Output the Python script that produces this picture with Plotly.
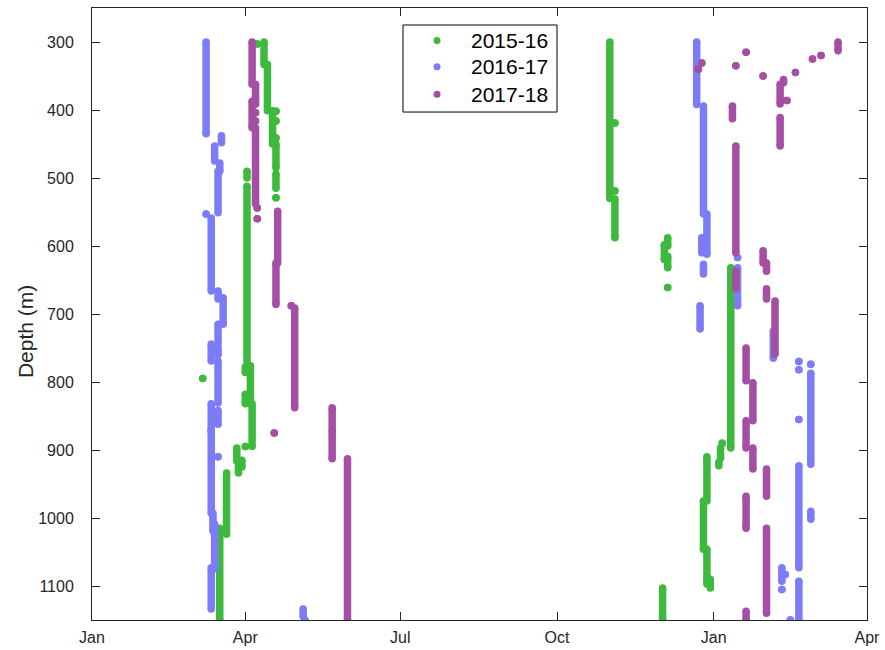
import plotly.graph_objects as go

# Season labels and marker colours
season_names = ["2015-16", "2016-17", "2017-18"]
season_colors = ["#3dba3d", "#7c7cf8", "#a44ea4"]

# Axis ticks (dates on a common Jan-to-Apr season calendar)
month_ticks = ["2001-01-01", "2001-04-01", "2001-07-01", "2001-10-01", "2002-01-01", "2002-04-01"]
month_labels = ["Jan", "Apr", "Jul", "Oct", "Jan", "Apr"]
depth_ticks = [300, 400, 500, 600, 700, 800, 900, 1000, 1100]

# Each dive profile run: date, shallowest depth (m), deepest depth (m).
# Equal depths mark a single fix.
green_dates = [
    "2001-03-07", "2001-03-17", "2001-03-21", "2001-03-27", "2001-03-28", "2001-03-30",
    "2001-04-01", "2001-04-01", "2001-04-01", "2001-04-02", "2001-04-02", "2001-04-04",
    "2001-04-05", "2001-04-08", "2001-04-12", "2001-04-14", "2001-04-17", "2001-04-19",
    "2001-04-19", "2001-04-19", "2001-04-19", "2001-04-19", "2001-04-19",
    "2001-11-01", "2001-11-04", "2001-11-04", "2001-11-04", "2001-12-02", "2001-12-05",
    "2001-12-03", "2001-12-05", "2001-12-05", "2002-01-11", "2002-01-06", "2002-01-05",
    "2002-01-04", "2001-12-28", "2001-12-26", "2001-12-28", "2001-12-30",
]
green_top = [
    795, 1015, 934, 897, 920, 915,
    778, 818, 895, 490, 512, 776,
    832, 303, 300, 333, 401, 402,
    416, 441, 450, 494, 529,
    300, 419, 519, 531, 1103, 588,
    598, 615, 661, 632, 890, 897,
    918, 910, 975, 1046, 1090,
]
green_bottom = [
    795, 1150, 1024, 916, 934, 925,
    786, 832, 895, 500, 776, 832,
    895, 303, 333, 401, 450, 402,
    416, 441, 485, 515, 529,
    530, 419, 519, 588, 1150, 600,
    620, 632, 661, 897, 890, 912,
    923, 975, 1046, 1097, 1103,
]

blue_dates = [
    "2001-03-09", "2001-03-18", "2001-03-14", "2001-03-17", "2001-03-16", "2001-03-09",
    "2001-03-12", "2001-03-16", "2001-03-19", "2001-03-16", "2001-03-12", "2001-03-16",
    "2001-03-16", "2001-03-12", "2001-03-16", "2001-03-12", "2001-03-16", "2001-03-13",
    "2001-03-14", "2001-03-12", "2001-05-05", "2001-05-06",
    "2001-12-22", "2001-12-26", "2001-12-28", "2001-12-25", "2001-12-26", "2001-12-24",
    "2002-01-15", "2002-01-15", "2002-02-05", "2002-02-20", "2002-02-20", "2002-02-27",
    "2002-02-27", "2002-02-20", "2002-02-20", "2002-02-27", "2002-02-20", "2002-02-10",
    "2002-02-12", "2002-02-10", "2002-02-15",
]
blue_top = [
    300, 438, 453, 478, 490, 553,
    559, 666, 676, 715, 744, 750,
    769, 832, 842, 872, 910, 993,
    1009, 1073, 1134, 1150,
    300, 394, 553, 588, 627, 688,
    617, 632, 725, 770, 782, 774,
    787, 855, 923, 990, 1093, 1073,
    1083, 1105, 1150,
]
blue_bottom = [
    435, 448, 475, 490, 551, 553,
    666, 678, 715, 744, 769, 760,
    831, 872, 862, 993, 910, 1019,
    1075, 1134, 1145, 1150,
    392, 553, 612, 610, 641, 722,
    617, 688, 765, 770, 782, 774,
    921, 855, 1073, 1002, 1150, 1093,
    1083, 1105, 1150,
]

purple_dates = [
    "2001-04-05", "2001-04-07", "2001-04-05", "2001-04-07", "2001-04-07", "2001-04-07",
    "2001-04-07", "2001-04-08", "2001-04-08", "2001-04-20", "2001-04-19", "2001-04-28",
    "2001-04-30", "2001-04-18", "2001-05-22", "2001-05-22", "2001-05-31",
    "2001-12-25", "2001-12-23", "2002-01-14", "2002-01-20", "2002-01-30", "2002-01-12",
    "2002-01-14", "2002-01-14", "2002-01-30", "2002-02-01", "2002-02-01", "2002-02-06",
    "2002-02-11", "2002-02-09", "2002-02-13", "2002-02-09", "2002-02-18", "2002-02-28",
    "2002-03-05", "2002-03-15", "2002-01-20", "2002-01-24", "2002-01-20", "2002-01-24",
    "2002-02-01", "2002-01-20", "2002-02-01", "2002-01-20",
]
purple_top = [
    300, 362, 387, 391, 404, 416,
    426, 544, 560, 549, 625, 688,
    691, 875, 838, 878, 913,
    331, 340, 335, 315, 350, 394,
    453, 637, 607, 625, 663, 681,
    355, 362, 386, 411, 345, 325,
    320, 300, 750, 801, 857, 897,
    928, 968, 1015, 1137,
]
purple_bottom = [
    362, 387, 426, 391, 404, 416,
    538, 544, 560, 625, 686, 688,
    838, 875, 874, 913, 1150,
    331, 340, 335, 315, 350, 413,
    610, 662, 625, 637, 678, 759,
    360, 391, 386, 453, 345, 325,
    320, 313, 798, 857, 897, 928,
    968, 1015, 1140, 1150,
]

series = [
    (green_dates, green_top, green_bottom),
    (blue_dates, blue_top, blue_bottom),
    (purple_dates, purple_top, purple_bottom),
]

MARK = 7.5
axis_color = "#262626"
font_family = "Liberation Sans, Arial, Helvetica, sans-serif"

fig = go.Figure()

for (dates, tops, bottoms), name, color in zip(series, season_names, season_colors):
    xs, ys = [], []
    for d, t, b in zip(dates, tops, bottoms):
        xs += [d, d, None]
        ys += [t, b, None]
    # a thick vertical stroke with round ends for every run of fixes
    fig.add_trace(go.Scatter(
        x=xs, y=ys, mode="lines+markers", name=name, showlegend=False,
        line=dict(color=color, width=MARK),
        marker=dict(color=color, size=MARK, line=dict(width=0)),
        connectgaps=False, hoverinfo="skip",
    ))

# Compact boxed key in the upper middle of the axes
key_left, key_right, key_top, key_bottom = 0.4013, 0.6, 0.9722, 0.830
key_dot_x = 0.4452
key_text_x = 0.4860
key_rows = [0.947, 0.904, 0.859]
fig.add_shape(type="rect", xref="paper", yref="paper",
              x0=key_left, x1=key_right, y0=key_bottom, y1=key_top,
              line=dict(color="black", width=1), fillcolor="white", layer="above")
for name, color, row in zip(season_names, season_colors, key_rows):
    fig.add_shape(type="circle", xref="paper", yref="paper",
                  xsizemode="pixel", ysizemode="pixel",
                  xanchor=key_dot_x, yanchor=row,
                  x0=-3.5, x1=3.5, y0=-3.5, y1=3.5,
                  fillcolor=color, line=dict(width=0), layer="above")
    fig.add_annotation(x=key_text_x, y=row, xref="paper", yref="paper",
                       text=name, showarrow=False, xanchor="left", yanchor="middle",
                       font=dict(size=21, color="black", family=font_family))

# Vertical axis label
fig.add_annotation(x=-0.0865, y=0.472, xref="paper", yref="paper",
                   text="Depth (m)", textangle=-90, showarrow=False,
                   xanchor="center", yanchor="middle",
                   font=dict(size=21, color=axis_color, family=font_family))

fig.update_xaxes(
    type="date", range=[month_ticks[0], month_ticks[-1]],
    tickmode="array", tickvals=month_ticks, ticktext=month_labels,
    ticks="inside", ticklen=8, tickcolor=axis_color, tickwidth=1,
    showline=True, linecolor=axis_color, linewidth=1, mirror="ticks",
    showgrid=False, zeroline=False, automargin=False,
    tickfont=dict(size=16, color=axis_color),
    ticklabelstandoff=3,
)
fig.update_yaxes(
    range=[1150, 250],
    tickmode="array", tickvals=depth_ticks,
    ticks="inside", ticklen=8, tickcolor=axis_color, tickwidth=1,
    showline=True, linecolor=axis_color, linewidth=1, mirror="ticks",
    showgrid=False, zeroline=False, automargin=False,
    tickfont=dict(size=16, color=axis_color),
    ticklabelstandoff=14,
)

fig.update_layout(
    width=885, height=650,
    margin=dict(l=92, r=18, t=8, b=30),
    plot_bgcolor="white", paper_bgcolor="white",
    font=dict(family=font_family, color=axis_color),
    showlegend=False,
)

fig.write_html("out.html")
